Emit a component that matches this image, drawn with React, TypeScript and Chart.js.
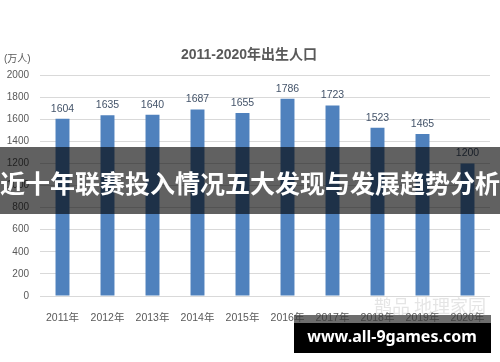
import React, { useEffect, useRef } from "react";
import { Chart, registerables } from "chart.js";

Chart.register(...registerables);

const categories = ["2011年", "2012年", "2013年", "2014年", "2015年", "2016年", "2017年", "2018年", "2019年", "2020年"];
const births = [1604, 1635, 1640, 1687, 1655, 1786, 1723, 1523, 1465, 1200];
const yTicks = [0, 200, 400, 600, 800, 1000, 1200, 1400, 1600, 1800, 2000];
const chartTitle = "2011-2020年出生人口";
const unitLabel = "(万人)";
const bannerText = "近十年联赛投入情况五大发现与发展趋势分析";
const siteText = "www.all-9games.com";
const faintMark = "鹊品 地理家园";

const FONT = "'Liberation Sans', 'Noto Sans CJK SC', sans-serif";

const overlayPlugin = {
  id: "overlay",
  afterDatasetsDraw(chart: any) {
    const ctx = chart.ctx;
    const meta = chart.getDatasetMeta(0);
    ctx.save();
    ctx.font = `10.5px ${FONT}`;
    ctx.fillStyle = "#44546A";
    ctx.textAlign = "center";
    ctx.textBaseline = "middle";
    meta.data.forEach((bar: any, i: number) => {
      ctx.fillText(String(births[i]), bar.x, bar.y - 10);
    });
    ctx.restore();
  },
  afterDraw(chart: any) {
    const ctx = chart.ctx;
    ctx.save();
    ctx.fillStyle = "#595959";
    ctx.font = `bold 14px ${FONT}`;
    ctx.textAlign = "center";
    ctx.textBaseline = "middle";
    ctx.fillText(chartTitle, 249, 55);
    ctx.font = `10px ${FONT}`;
    ctx.textAlign = "left";
    ctx.fillText(unitLabel, 4, 59);
    ctx.fillStyle = "rgba(170,170,170,0.3)";
    ctx.font = `18px 'Noto Sans CJK SC', sans-serif`;
    ctx.textAlign = "left";
    ctx.fillText(faintMark, 374, 306);
    ctx.fillStyle = "rgba(0,0,0,0.62)";
    ctx.fillRect(0, 147, 500, 67);
    ctx.fillStyle = "#ffffff";
    ctx.font = `bold 25px 'Noto Sans CJK SC', sans-serif`;
    ctx.textAlign = "center";
    ctx.fillText(bannerText, 250, 183);
    ctx.fillStyle = "rgba(60,60,60,0.75)";
    ctx.fillRect(294, 315, 197, 8);
    ctx.fillStyle = "#000000";
    ctx.fillRect(294, 323, 197, 30);
    ctx.fillStyle = "#ffffff";
    ctx.font = `bold 16px 'Noto Sans', sans-serif`;
    ctx.fillText(siteText, 392, 337);
    ctx.restore();
  },
};

export default function App() {
  const ref = useRef<HTMLCanvasElement>(null);
  useEffect(() => {
    if (!ref.current) return;
    const chart = new Chart(ref.current, {
      type: "bar",
      data: {
        labels: categories,
        datasets: [
          {
            data: births,
            backgroundColor: "#4F81BD",
            categoryPercentage: 1,
            barPercentage: 0.31,
          },
        ],
      },
      options: {
        animation: false,
        responsive: false,
        devicePixelRatio: 1,
        layout: { padding: { top: 75, right: 10, left: 0, bottom: 36 } },
        plugins: { legend: { display: false }, tooltip: { enabled: false }, title: { display: false } },
        scales: {
          x: {
            grid: { display: false },
            border: { display: false },
            ticks: { color: "#595959", font: { size: 10.5, family: FONT }, padding: 8, maxRotation: 0 },
            afterFit: (s: any) => { s.height = 30; },
          },
          y: {
            min: 0,
            max: 2000,
            afterBuildTicks: (s: any) => { s.ticks = yTicks.map((v) => ({ value: v })); },
            grid: { color: "#d9d9d9", drawTicks: false },
            border: { display: false },
            ticks: {
              color: "#595959",
              font: { size: 10, family: FONT },
              padding: 11,
              callback: (v: any) => String(v),
            },
            afterFit: (s: any) => { s.width = 40; },
          },
        },
      },
      plugins: [overlayPlugin],
    });
    return () => chart.destroy();
  }, []);
  return (
    <div style={{ position: "absolute", left: 0, top: 0, width: 500, height: 362, background: "#fff" }}>
      <canvas ref={ref} width={500} height={362} />
    </div>
  );
}
